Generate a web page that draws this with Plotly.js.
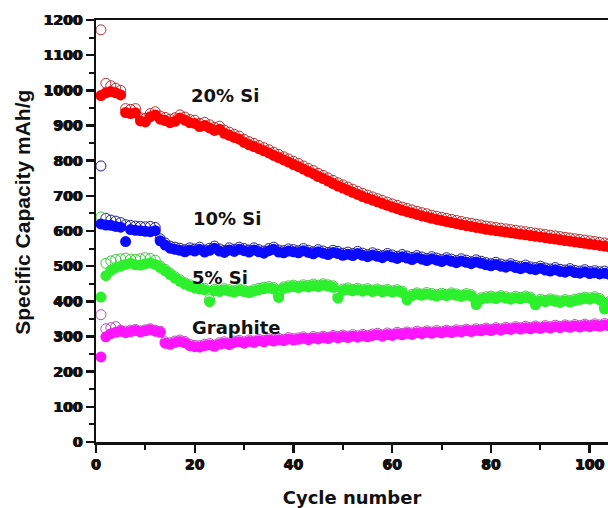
<!DOCTYPE html>
<html>
<head>
<meta charset="utf-8">
<script src="https://cdn.plot.ly/plotly-3.0.1.min.js"></script>
<style>
  html, body { margin: 0; padding: 0; background: #fff; }
  #chart { width: 608px; height: 508px; }
</style>
</head>
<body>
<div id="chart"></div>
<script>
// Specific capacity (mAh/g) per cycle; filled = charge, open = discharge
const si20Filled = [
  985, 993, 997, 993, 987, 937, 934, 936,
  913, 910, 925, 930, 918, 914, 908, 912, 921, 915, 908, 906,
  897, 900, 893, 886, 889, 878, 872, 866, 861, 852,
  845, 840, 834, 828, 822, 815, 809, 802, 796, 789,
  783, 776, 769, 763, 755, 749, 742, 735, 728, 722,
  716, 710, 704, 698, 693, 688, 683, 678, 673, 668,
  664, 659, 655, 651, 647, 643, 640, 636, 633, 630,
  627, 624, 621, 618, 615, 613, 610, 608, 605, 603,
  601, 599, 597, 595, 593, 591, 589, 587, 585, 583,
  581, 579, 577, 575, 573, 571, 569, 567, 565, 563,
  561, 559, 557, 555
];
const si20Open = [
  1172, 1020, 1013, 1006, 1000, 948, 946, 948,
  922, 920, 934, 939, 927, 923, 918, 922, 930, 924, 917, 915,
  906, 909, 902, 895, 898, 887, 881, 875, 870, 861,
  854, 849, 843, 837, 831, 824, 818, 811, 805, 798,
  792, 785, 778, 772, 764, 758, 751, 744, 737, 731,
  725, 719, 713, 707, 702, 697, 692, 687, 682, 677,
  673, 668, 664, 660, 656, 652, 649, 645, 642, 639,
  636, 633, 630, 627, 624, 622, 619, 617, 614, 612,
  610, 608, 606, 604, 602, 600, 598, 596, 594, 592,
  590, 588, 586, 584, 582, 580, 578, 576, 574, 572,
  570, 568, 566, 564
];
const si10Filled = [
  620, 617, 616, 613, 611, 570, 604, 602, 601, 599, 598, 601,
  572, 560, 551, 548, 545, 541, 546, 543,
  548, 540, 545, 551, 543, 539, 546, 542, 548, 544,
  540, 546, 541, 537, 544, 548, 540, 538, 543, 541,
  538, 544, 539, 535, 541, 537, 533, 539, 536, 531,
  534, 530, 536, 531, 527, 532, 528, 524, 530, 526,
  522, 527, 523, 519, 524, 520, 516, 521, 517, 513,
  518, 514, 510, 515, 511, 507, 512, 508, 504, 501,
  505, 500, 497, 501, 496, 493, 497, 492, 490, 494,
  489, 486, 490, 485, 483, 487, 482, 480, 484, 479,
  481, 478, 480, 477
];
const si10Open = [
  785, 636, 631, 628, 624, 618, 616, 614, 613, 612, 613, 610,
  578, 566, 557, 554, 551, 547, 552, 549,
  554, 546, 551, 557, 549, 545, 552, 548, 554, 550,
  546, 552, 547, 543, 550, 554, 546, 544, 549, 547,
  544, 550, 545, 541, 547, 543, 539, 545, 542, 537,
  540, 536, 542, 537, 533, 538, 534, 530, 536, 532,
  528, 533, 529, 525, 530, 526, 522, 527, 523, 519,
  524, 520, 516, 521, 517, 513, 518, 514, 510, 507,
  511, 506, 503, 507, 502, 499, 503, 498, 496, 500,
  495, 492, 496, 491, 489, 493, 488, 486, 490, 485,
  487, 484, 486, 483
];
const si5Filled = [
  412, 473, 488, 496, 500, 505, 508, 504, 503, 507, 509, 505,
  496, 487, 476, 466, 457, 449, 443, 438,
  435, 433, 399, 430, 428, 432, 429, 426, 431, 428,
  425, 429, 433, 436, 438, 435, 411, 437, 440, 442,
  439, 443, 441, 445, 442, 446, 443, 440, 409, 431,
  434, 430, 433, 429, 432, 428, 431, 427, 430, 426,
  429, 425, 404, 416, 420, 417, 421, 418, 415, 419,
  416, 420, 417, 414, 418, 415, 391, 406, 409, 411,
  408, 412, 409, 406, 410, 407, 411, 408, 390, 402,
  399, 403, 400, 397, 401, 398, 402, 405, 408, 406,
  409, 404, 378, 396
];
const si5Open = [
  640, 508, 515, 519, 521, 523, 520, 519, 521, 524, 522, 517,
  500, 491, 480, 470, 461, 453, 447, 442,
  439, 437, 405, 434, 432, 436, 433, 430, 435, 432,
  429, 433, 437, 440, 442, 439, 416, 441, 444, 446,
  443, 447, 445, 449, 446, 450, 447, 444, 414, 435,
  438, 434, 437, 433, 436, 432, 435, 431, 434, 430,
  433, 429, 409, 420, 424, 421, 425, 422, 419, 423,
  420, 424, 421, 418, 422, 419, 396, 410, 413, 415,
  412, 416, 413, 410, 414, 411, 415, 412, 395, 406,
  403, 407, 404, 401, 405, 402, 406, 409, 412, 410,
  413, 408, 383, 400
];
const graphiteFilled = [
  242, 299, 308, 312, 315, 311, 314, 317, 313, 316, 319, 315, 312,
  281, 278, 283, 286, 282, 274, 271,
  270, 274, 276, 272, 278, 281, 277, 283, 285, 281,
  286, 283, 288, 285, 290, 287, 291, 288, 293, 290,
  292, 295, 291, 296, 293, 297, 294, 299, 296, 300,
  297, 301, 298, 302, 299, 303, 305, 301, 306, 303,
  308, 305, 309, 306, 311, 308, 312, 309, 313, 310,
  314, 311, 315, 313, 317, 314, 318, 316, 320, 317,
  321, 318, 322, 320, 324, 321, 325, 322, 326, 323,
  327, 324, 328, 325, 329, 326, 330, 327, 331, 328,
  332, 329, 333, 330
];
const graphiteOpen = [
  362, 322, 325, 328, 318, 315, 318, 320, 316, 319, 322, 318, 315,
  285, 282, 287, 290, 286, 278, 275,
  274, 278, 280, 276, 282, 285, 281, 287, 289, 285,
  290, 287, 292, 289, 294, 291, 295, 292, 297, 294,
  296, 299, 295, 300, 297, 301, 298, 303, 300, 304,
  301, 305, 302, 306, 303, 307, 309, 305, 310, 307,
  312, 309, 313, 310, 315, 312, 316, 313, 317, 314,
  318, 315, 319, 317, 321, 318, 322, 320, 324, 321,
  325, 322, 326, 324, 328, 325, 329, 326, 330, 327,
  331, 328, 332, 329, 333, 330, 334, 331, 335, 332,
  336, 333, 337, 334
];
const seriesLabels = ['20% Si', '10% Si', '5% Si', 'Graphite'];
const yTickVals = [0, 100, 200, 300, 400, 500, 600, 700, 800, 900, 1000, 1100, 1200];
const xTickVals = [0, 20, 40, 60, 80, 100];

const cycles = si20Filled.map((_, i) => i + 1);

const fillColors = ['#ff0000', '#0a0aff', '#2cf02c', '#ff14ff'];
const edgeColors = ['#b83030', '#20208c', '#3cc83c', '#b050b0'];
const filledSets = [si20Filled, si10Filled, si5Filled, graphiteFilled];
const openSets = [si20Open, si10Open, si5Open, graphiteOpen];

const traces = [];
openSets.forEach((vals, k) => {
  traces.push({
    x: cycles, y: vals, type: 'scatter', mode: 'markers',
    name: seriesLabels[k] + ' (open)',
    marker: { symbol: 'circle-open', size: 10, color: edgeColors[k], line: { width: 1, color: edgeColors[k] } },
    hoverinfo: 'x+y'
  });
});
filledSets.forEach((vals, k) => {
  traces.push({
    x: cycles, y: vals, type: 'scatter', mode: 'markers',
    name: seriesLabels[k],
    marker: { symbol: 'circle', size: 11, color: fillColors[k], line: { width: 0 } },
    hoverinfo: 'x+y'
  });
});

const boldFamily = 'DejaVu Sans, Arial, sans-serif';
const labelFont = { family: boldFamily, size: 18, weight: 'bold', color: '#111' };
const labelPos = [[26.2, 985], [26.5, 635], [25.1, 469], [28.3, 327]];
const annotations = seriesLabels.map((t, k) => ({
  text: t, x: labelPos[k][0], y: labelPos[k][1],
  xref: 'x', yref: 'y', showarrow: false, xanchor: 'center', yanchor: 'middle',
  font: labelFont
}));
annotations.push({
  text: 'Specific Capacity mAh/g', textangle: -90,
  xref: 'paper', yref: 'paper', x: -0.145, y: 0.545,
  xanchor: 'center', yanchor: 'middle', showarrow: false,
  font: { family: 'Liberation Sans, Arial, sans-serif', size: 21, weight: 'bold', color: '#111' }
});

// heavy numerals: bold face thickened with a tight text shadow
const tickFont = {
  family: boldFamily, size: 14, weight: 'bold', color: '#111',
  shadow: '0.6px 0 0 #111, -0.6px 0 0 #111, 0 0.4px 0 #111'
};

const layout = {
  width: 608, height: 508,
  margin: { l: 96, r: 0, t: 20, b: 66 },
  paper_bgcolor: '#fff', plot_bgcolor: '#fff',
  showlegend: false,
  font: { family: boldFamily, color: '#111' },
  xaxis: {
    range: [0, 103.7], showgrid: false, zeroline: false,
    showline: true, linecolor: '#111', linewidth: 2.5, mirror: true,
    ticks: 'outside', ticklen: 8, tickwidth: 2.5, tickcolor: '#111',
    tickvals: xTickVals,
    tickfont: tickFont,
    minor: { dtick: 10, ticks: 'outside', ticklen: 5, tickwidth: 2, tickcolor: '#111', showgrid: false },
    title: { text: 'Cycle number', font: { family: boldFamily, size: 18, weight: 'bold', color: '#111' }, standoff: 20 }
  },
  yaxis: {
    range: [0, 1200], showgrid: false, zeroline: false,
    showline: true, linecolor: '#111', linewidth: 2.5, mirror: false,
    ticks: 'outside', ticklen: 8, tickwidth: 2.5, tickcolor: '#111',
    tickvals: yTickVals,
    tickfont: tickFont,
    minor: { dtick: 50, ticks: 'outside', ticklen: 5, tickwidth: 2, tickcolor: '#111', showgrid: false }
  },
  annotations: annotations
};

Plotly.newPlot('chart', traces, layout, { displayModeBar: false, staticPlot: true });
</script>
</body>
</html>
